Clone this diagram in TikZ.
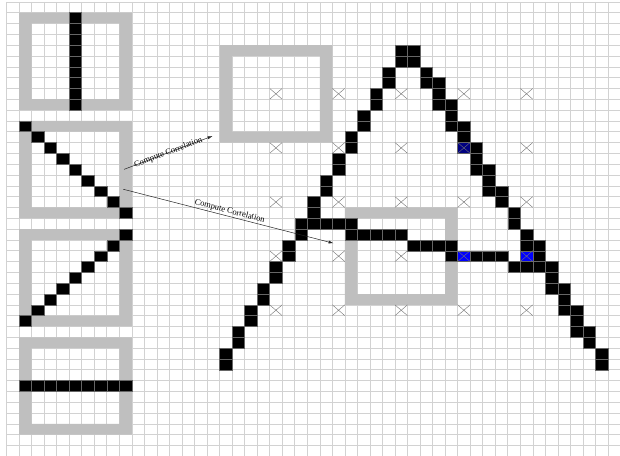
\documentclass[tikz,border=0pt]{standalone}
\usepackage{fontspec}
\setmainfont{Liberation Serif}
\usetikzlibrary{arrows.meta}

\begin{document}
\begin{tikzpicture}[x=12.53pt,y=-10.82pt,
  gridline/.style={draw=gray!35,line width=0.5pt},
  frame/.style={fill=gray!50,even odd rule},
  cell/.style={fill=black,draw=black!60,line width=0.4pt},
  hit/.style={fill=blue,draw=black!60,line width=0.4pt},
  hitdark/.style={fill=blue!50!black,draw=black!60,line width=0.4pt},
  cross/.style={draw=black!55,line width=0.4pt},
  arr/.style={-{Latex[length=5pt,width=3pt]},line width=0.5pt,draw=black!85},
  lbl/.style={font=\fontsize{8.5}{10}\selectfont,sloped,inner sep=1pt}
]
\useasboundingbox (-0.519,-0.171) rectangle (48.96,41.97);
\fill[white] (-0.519,-0.171) rectangle (48.96,41.97);
\foreach \c in {0,...,49} \draw[gridline] (\c,0) -- (\c,42);
\foreach \r in {0,...,42} \draw[gridline] (0,\r) -- (49,\r);

\foreach \r in {1,11,21,31}
  \fill[frame] (1,\r) rectangle ++(9,9) (2,\r+1) rectangle ++(7,7);
\fill[frame] (17,4) rectangle (26,13) (18,5) rectangle (25,12);
\fill[frame] (27,19) rectangle (36,28) (28,20) rectangle (35,27);

\foreach \i in {0,...,8} {
  \path[cell] (5,1+\i) rectangle ++(1,1);
  \path[cell] (1+\i,11+\i) rectangle ++(1,1);
  \path[cell] (9-\i,21+\i) rectangle ++(1,1);
  \path[cell] (1+\i,35) rectangle ++(1,1);
}

\foreach \k in {0,...,14} {
  \path[cell] (31-\k,4+2*\k) rectangle ++(1,1);
  \path[cell] (31-\k,5+2*\k) rectangle ++(1,1);
}
\foreach \c/\r in {32/4,32/5,33/6,33/7,34/7,34/8,34/9,35/9,35/10,35/11,36/11,36/12,
  37/13,37/14,37/15,38/15,38/16,38/17,39/17,39/18,40/19,40/20,41/21,41/22,42/22,42/23,
  40/24,41/24,42/24,43/24,43/25,43/26,44/26,44/27,44/28,45/28,45/29,45/30,46/30,46/31,
  47/32,47/33}
  \path[cell] (\c,\r) rectangle ++(1,1);
\foreach \c/\r in {24/20,25/20,26/20,27/20,27/21,28/21,29/21,30/21,31/21,
  32/22,33/22,34/22,35/22,35/23,37/23,38/23,39/23}
  \path[cell] (\c,\r) rectangle ++(1,1);
\path[hitdark] (36,13) rectangle ++(1,1);
\path[hit] (36,23) rectangle ++(1,1);
\path[hit] (41,23) rectangle ++(1,1);

\foreach \c in {21,26,...,41}
  \foreach \r in {8,13,...,28}
    \draw[cross] (\c,\r) -- ++(1,1) (\c+1,\r) -- ++(-1,1);

\coordinate (src1) at (9.38,15.48);
\coordinate (dst1) at (16.45,12.4);
\coordinate (src2) at (9.32,17.32);
\coordinate (dst2) at (26.1,22.31);
\draw[arr] (src1) -- node[lbl] {Compute Correlation} (dst1);
\draw[arr] (src2) -- node[lbl,above] {Compute Correlation} (dst2);
\end{tikzpicture}
\end{document}
